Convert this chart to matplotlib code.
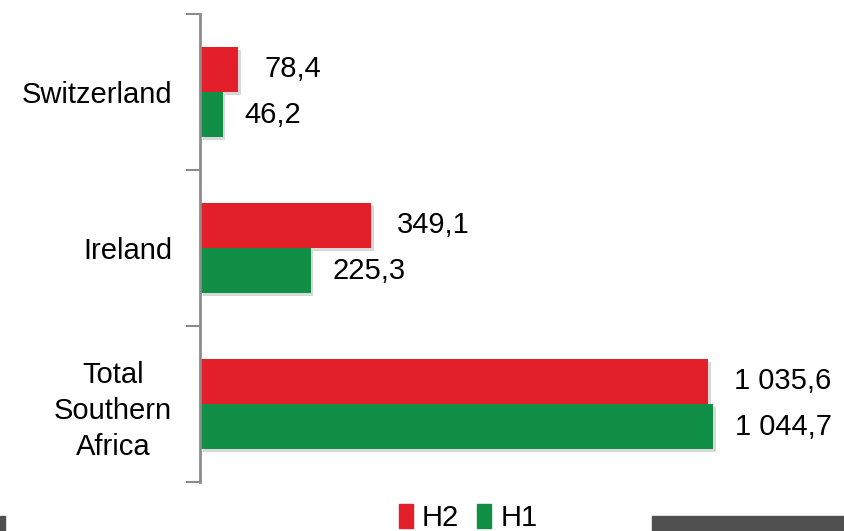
import matplotlib.pyplot as plt
import matplotlib.patheffects as pe
from matplotlib.patches import Rectangle, Patch
import numpy as np

plt.rcParams['font.family'] = ['Liberation Sans', 'DejaVu Sans']

categories = ['Switzerland', 'Ireland', 'Total\nSouthern\nAfrica']
h2 = [78.4, 349.1, 1035.6]
h1 = [46.2, 225.3, 1044.7]
red = '#E31F29'
green = '#128F46'


def fmt(v):
    s = '{:,.1f}'.format(v)
    return s.replace(',', ' ').replace('.', ',')


fig = plt.figure(figsize=(8.44, 5.31), dpi=100)
ax = fig.add_axes([200 / 844, 1 - 482 / 531, 1 - 200 / 844, 468 / 531])

y = np.arange(len(categories))
bh = 0.29
shadow = [pe.SimplePatchShadow(offset=(2, -2), shadow_rgbFace='0.5', alpha=0.3), pe.Normal()]
b2 = ax.barh(y - bh / 2, h2, height=bh, color=red, path_effects=shadow)
b1 = ax.barh(y + bh / 2, h1, height=bh, color=green, path_effects=shadow)

for bars, vals, dx in ((b2, h2, 26), (b1, h1, 22)):
    for bar, v in zip(bars, vals):
        ax.annotate(fmt(v), (v, bar.get_y() + bar.get_height() / 2),
                    xytext=(dx, 0), textcoords='offset pixels',
                    va='center', ha='left', fontsize=21)

ax.set_xlim(0, 1312)
ax.set_ylim(2.5, -0.5)
ax.set_yticks(np.arange(-0.5, 3, 1))
ax.set_yticklabels([])
ax.set_yticks(y, minor=True)
ax.set_yticklabels(categories, minor=True, fontsize=21, linespacing=1.35)
for lab in ax.get_yticklabels(minor=True):
    lab.set_multialignment('center')
ax.tick_params(axis='y', which='major', length=10, width=1.5, color='#8c8c8c')
ax.tick_params(axis='y', which='minor', length=0, pad=20)
ax.set_xticks([])
for s in ('top', 'right', 'bottom'):
    ax.spines[s].set_visible(False)
ax.spines['left'].set_color('#8c8c8c')
ax.spines['left'].set_linewidth(2)

handles = [Patch(color=red), Patch(color=green)]
fig.legend(handles, ['H2', 'H1'], loc='center', bbox_to_anchor=(468 / 844, 1 - 518 / 531),
           ncol=2, frameon=False, fontsize=21, handlelength=0.5, handleheight=0.9,
           handletextpad=0.3, columnspacing=0.6, borderpad=0)

# dark strips along the bottom edge
fig.add_artist(Rectangle((0, 0), 5 / 844, 15 / 531, transform=fig.transFigure, color='#505050'))
fig.add_artist(Rectangle((652 / 844, 0), 192 / 844, 15 / 531, transform=fig.transFigure, color='#505050'))

fig.savefig('out.png', dpi=100)
